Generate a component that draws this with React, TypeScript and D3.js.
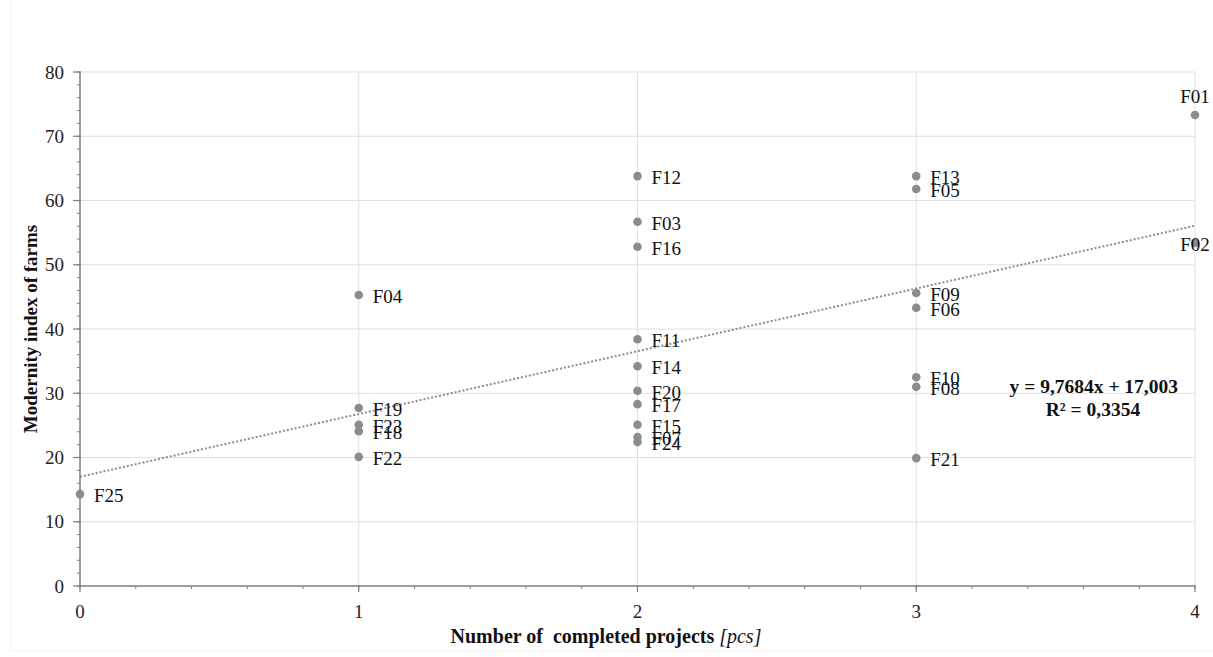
import React from 'react';
import { scaleLinear, range } from 'd3';

// farms and their values
const farms = ['F01', 'F02', 'F03', 'F04', 'F05', 'F06', 'F07', 'F08', 'F09', 'F10', 'F11', 'F12', 'F13',
  'F14', 'F15', 'F16', 'F17', 'F18', 'F19', 'F20', 'F21', 'F22', 'F23', 'F24', 'F25'];
const projects = [4, 4, 2, 1, 3, 3, 2, 3, 3, 3, 2, 2, 3, 2, 2, 2, 2, 1, 1, 2, 3, 1, 1, 2, 0];
const modernity = [73.3, 53.4, 56.7, 45.3, 61.8, 43.3, 23.2, 31.0, 45.6, 32.5, 38.4, 63.8, 63.8,
  34.2, 25.1, 52.8, 28.3, 24.1, 27.7, 30.4, 19.9, 20.1, 25.1, 22.4, 14.3];

const yTicks = [0, 10, 20, 30, 40, 50, 60, 70, 80];
const xTicks = [0, 1, 2, 3, 4];
const slope = 9.7684;
const intercept = 17.003;
const equation = 'y = 9,7684x + 17,003';
const rSquared = 'R² = 0,3354';

const font = '"Liberation Serif", "Times New Roman", serif';

function App() {
  const left = 80, right = 1195, top = 72, bottom = 586;
  const x = scaleLinear().domain([0, 4]).range([left, right]);
  const y = scaleLinear().domain([0, 80]).range([bottom, top]);
  const axisColor = '#7f7f7f';
  const gridColor = '#e0e0e0';
  const fs = 19;

  const yMinor = range(0, 80.001, 2);
  const xMinor = range(0, 4.001, 0.2);

  return (
    <svg width={1213} height={657} style={{ position: 'fixed', left: 0, top: 0, background: '#fff' }}
      fontFamily={font}>
      <rect x={10.5} y={-1} width={1203} height={652} fill="none" stroke="#f2f2f2" />
      {/* grid */}
      {yTicks.filter(t => t > 0).map(t => (
        <line key={'gy' + t} x1={left} x2={right} y1={y(t)} y2={y(t)} stroke={gridColor} strokeWidth={1} />
      ))}
      {xTicks.filter(t => t > 0).map(t => (
        <line key={'gx' + t} x1={x(t)} x2={x(t)} y1={top} y2={bottom} stroke={gridColor} strokeWidth={1} />
      ))}
      {/* axes */}
      <line x1={left} x2={left} y1={top} y2={bottom} stroke={axisColor} strokeWidth={1.5} />
      <line x1={left} x2={right} y1={bottom} y2={bottom} stroke={axisColor} strokeWidth={1.5} />
      {yMinor.map(t => (
        <line key={'my' + t} x1={left - 3} x2={left} y1={y(t)} y2={y(t)} stroke={axisColor} strokeWidth={1} />
      ))}
      {yTicks.map(t => (
        <g key={'ty' + t}>
          <line x1={left - 7} x2={left + 1} y1={y(t)} y2={y(t)} stroke={axisColor} strokeWidth={1.2} />
          <text x={left - 16} y={y(t)} dy="0.35em" textAnchor="end" fontSize={fs} fill="#222">{t}</text>
        </g>
      ))}
      {xMinor.map(t => (
        <line key={'mx' + t.toFixed(1)} x1={x(t)} x2={x(t)} y1={bottom} y2={bottom + 3} stroke={axisColor} strokeWidth={1} />
      ))}
      {xTicks.map(t => (
        <g key={'tx' + t}>
          <line x1={x(t)} x2={x(t)} y1={bottom - 1} y2={bottom + 6} stroke={axisColor} strokeWidth={1.2} />
          <text x={x(t)} y={bottom + 32} textAnchor="middle" fontSize={fs} fill="#222">{t}</text>
        </g>
      ))}
      {/* trend line */}
      <line x1={x(0)} y1={y(intercept)} x2={x(4)} y2={y(intercept + slope * 4)}
        stroke="#8c8c8c" strokeWidth={2} strokeDasharray="2 2" />
      {/* points */}
      {farms.map((f, i) => (
        <circle key={'p' + f} cx={x(projects[i])} cy={y(modernity[i])} r={4.3} fill="#8c8c8c" />
      ))}
      {farms.map((f, i) => {
        const px = x(projects[i]);
        const py = y(modernity[i]);
        if (f === 'F01') {
          return <text key={'l' + f} x={px} y={py - 12} textAnchor="middle" fontSize={fs} fill="#111">{f}</text>;
        }
        if (f === 'F02') {
          return <text key={'l' + f} x={px} y={py} dy="0.4em" textAnchor="middle" fontSize={fs} fill="#111">{f}</text>;
        }
        return <text key={'l' + f} x={px + 14} y={py} dy="0.42em" fontSize={fs} fill="#111">{f}</text>;
      })}
      {/* equation */}
      <text x={1178} y={393} textAnchor="end" fontSize={19.5} fontWeight="bold" fill="#111">{equation}</text>
      <text x={1093} y={416} textAnchor="middle" fontSize={19.5} fontWeight="bold" fill="#111">{rSquared}</text>
      {/* axis titles */}
      <text transform={`translate(37,${(top + bottom) / 2}) rotate(-90)`} textAnchor="middle"
        fontSize={fs} fontWeight="bold" fill="#111">Modernity index of farms</text>
      <text x={606} y={643} textAnchor="middle" fontSize={20} fontWeight="bold" fill="#111"
        xmlSpace="preserve">Number of  completed projects <tspan fontStyle="italic" fontWeight="normal">[pcs]</tspan></text>
    </svg>
  );
}

export default App;
